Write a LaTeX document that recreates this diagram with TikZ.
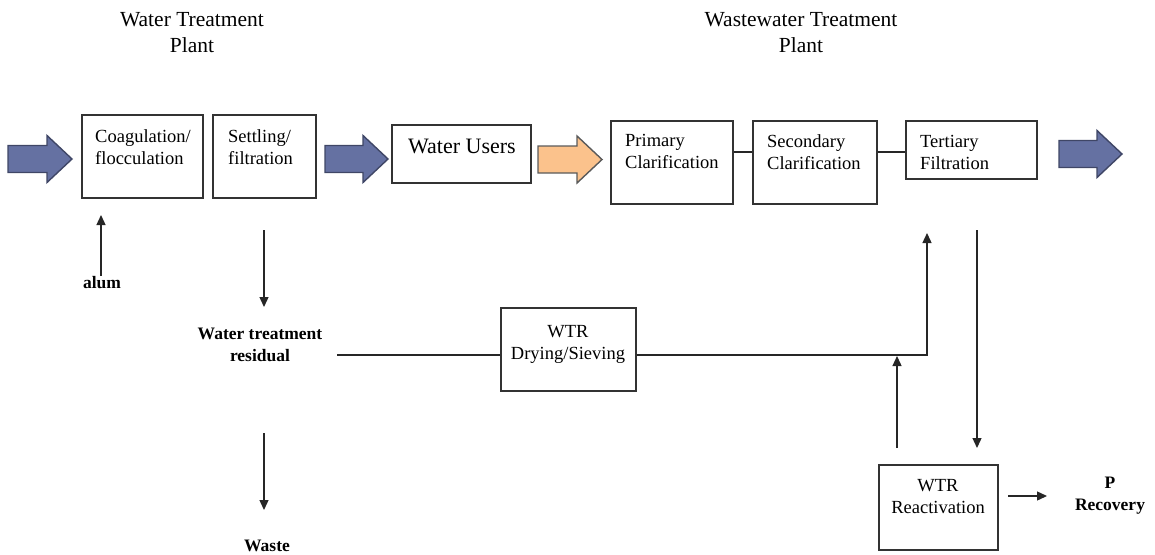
\documentclass[tikz,border=0pt]{standalone}
\usepackage{fontspec}
\setmainfont{Liberation Serif}
\usetikzlibrary{arrows.meta}
\definecolor{blk}{HTML}{6571A2}
\definecolor{blkline}{HTML}{3F4666}
\definecolor{org}{HTML}{FBC28C}
\definecolor{orgline}{HTML}{5A5A5A}
\newcommand\barrow[6]{% x0, x1, xhead, yc, fill, line
  \filldraw[fill=#5,draw=#6,line width=1.4pt,line join=miter]
    (#1,#4-13.5) -- (#3,#4-13.5) -- (#3,#4-23.5) -- (#2,#4) -- (#3,#4+23.5)
    -- (#3,#4+13.5) -- (#1,#4+13.5) -- cycle;}
\begin{document}
\begin{tikzpicture}[x=1pt,y=-1pt,
  box/.style={draw=black!80,line width=1.3pt,inner sep=0pt},
  txt/.style={inner sep=0pt,align=left,font=\fontsize{18.5}{22}\selectfont},
  ctxt/.style={inner sep=0pt,align=center,font=\fontsize{18.5}{22}\selectfont},
  btxt/.style={inner sep=0pt,align=center,font=\fontsize{17.5}{22}\selectfont\bfseries},
  ttl/.style={inner sep=0pt,align=center,font=\fontsize{21.5}{26}\selectfont},
  conn/.style={draw=black!85,line width=1.3pt},
  arr/.style={conn,-{Triangle[length=10pt,width=9pt]}}]
\useasboundingbox (0,0) rectangle (1155,554);
% titles
\node[ttl,anchor=base] (t1) at (192,52) {Water Treatment\\Plant};
\node[ttl,anchor=base] (t2) at (801,52) {Wastewater Treatment\\Plant};
% boxes
\node[box,minimum width=121pt,minimum height=83pt] (coag) at (142.5,156.5) {};
\node[box,minimum width=103pt,minimum height=83pt] (settle) at (264.5,156.5) {};
\node[box,minimum width=139pt,minimum height=58pt] (users) at (461.5,154) {};
\node[box,minimum width=122pt,minimum height=83pt] (prim) at (672,162.5) {};
\node[box,minimum width=124pt,minimum height=83pt] (sec) at (815,162.5) {};
\node[box,minimum width=131pt,minimum height=58pt] (tert) at (971.5,150) {};
\node[box,minimum width=135pt,minimum height=83pt] (dry) at (568.5,349.5) {};
\node[box,minimum width=119pt,minimum height=85pt] (react) at (938.5,507.5) {};
% box texts (base anchor = last line's baseline)
\node[txt,anchor=base west] (coagT) at (95,164) {Coagulation/\\flocculation};
\node[txt,anchor=base west] (settleT) at (228,164) {Settling/\\filtration};
\node[ctxt,anchor=base,font=\fontsize{22}{26}\selectfont] (usersT) at (462,153) {Water Users};
\node[txt,anchor=base west] (primT) at (625,168) {Primary\\Clarification};
\node[txt,anchor=base west] (secT) at (767,169) {Secondary\\Clarification};
\node[txt,anchor=base west] (tertT) at (920,169) {Tertiary\\Filtration};
\node[ctxt,anchor=base] (dryT) at (568,359) {WTR\\Drying/Sieving};
\node[ctxt,anchor=base] (reactT) at (938,513) {WTR\\Reactivation};
% bold labels
\node[btxt,anchor=base] (alum) at (102,288) {alum};
\node[btxt,anchor=base] (resid) at (260,361) {Water treatment\\residual};
\node[btxt,anchor=base] (waste) at (267,551) {Waste};
\node[btxt,anchor=base] (prec) at (1110,510) {P\\Recovery};
% block arrows
\barrow{8}{72}{47}{159}{blk}{blkline}
\barrow{325}{388}{363}{159}{blk}{blkline}
\barrow{538}{602}{577}{159.5}{org}{orgline}
\barrow{1059}{1122}{1097}{154}{blk}{blkline}
% links between boxes
\draw[conn] ([yshift=10.5pt]prim.east) -- ([yshift=10.5pt]sec.west);
\draw[conn] ([yshift=10.5pt]sec.east) -- ([yshift=-2pt]tert.west);
% coordinates
\coordinate (alumtip) at (101,215);
\coordinate (alumst) at (101,276);
\coordinate (s1) at (264,230);
\coordinate (s2) at (264,307);
\coordinate (w1) at (264,433);
\coordinate (w2) at (264,510);
\coordinate (rl) at (337,355);
\coordinate (j) at (927,355);
\coordinate (jt) at (927,233);
\coordinate (u1) at (897,448);
\coordinate (u2) at (897,356);
\coordinate (d1) at (977,230);
\coordinate (d2) at (977,448);
\coordinate (p1) at (1008,496);
\coordinate (p2) at (1047,496);
% connectors
\draw[arr] (alumst) -- (alumtip);
\draw[arr] (s1) -- (s2);
\draw[arr] (w1) -- (w2);
\draw[conn] (rl) -- (rl -| dry.west);
\draw[arr] (j -| dry.east) -- (j) -- (jt);
\draw[arr] (u1) -- (u2);
\draw[arr] (d1) -- (d2);
\draw[arr] (p1) -- (p2);
\end{tikzpicture}
\end{document}
